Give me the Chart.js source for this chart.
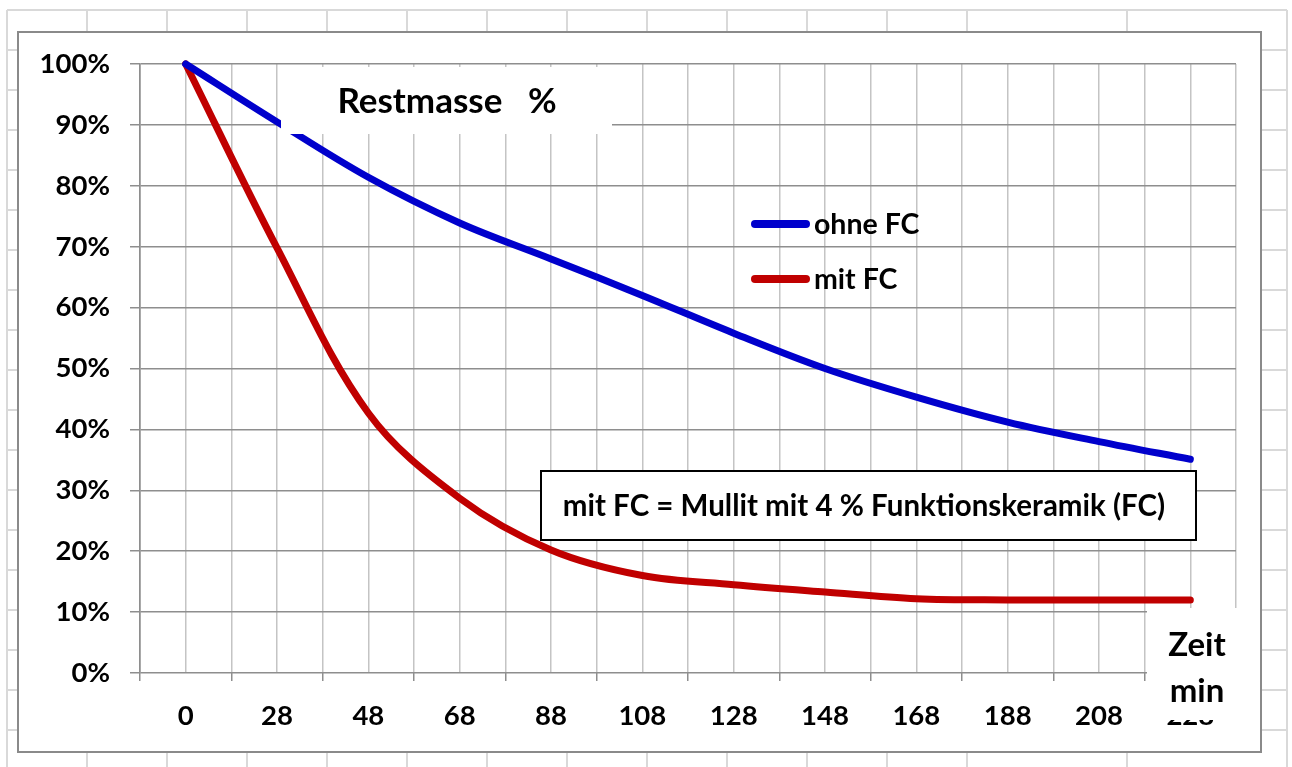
<!DOCTYPE html>
<html>
<head>
<meta charset="utf-8">
<title>Restmasse %</title>
<script src="https://cdn.jsdelivr.net/npm/chart.js@4.4.1/dist/chart.umd.min.js"></script>
<style>
  html, body { margin: 0; padding: 0; background: #ffffff; }
  canvas { display: block; }
</style>
</head>
<body>
<canvas id="chart" width="1292" height="767"></canvas>
<script>
// Zeit in Minuten (Kategorien der x-Achse)
const categories = ['0', '28', '48', '68', '88', '108', '128', '148', '168', '188', '208', '228'];
// Restmasse als Anteil (1 = 100 %)
const ohneFC = [1.00, 0.905, 0.814, 0.739, 0.680, 0.620, 0.558, 0.500, 0.453, 0.412, 0.380, 0.351];
const mitFC  = [1.00, 0.698, 0.427, 0.287, 0.202, 0.160, 0.145, 0.133, 0.122, 0.120, 0.120, 0.120];
const seriesNames = ['ohne FC', 'mit FC'];
const yTickLabels = ['0%', '10%', '20%', '30%', '40%', '50%', '60%', '70%', '80%', '90%', '100%'];

const FONT = 'Lato, "Open Sans", "Liberation Sans", sans-serif';

function toPoints(values) {
  return values.map((v, i) => ({ x: i, y: v }));
}

// Tabellenraster und Diagrammrahmen hinter dem Diagramm
const sheetBackground = {
  id: 'sheetBackground',
  beforeDraw(chart) {
    const ctx = chart.ctx;
    ctx.save();
    ctx.fillStyle = '#ffffff';
    ctx.fillRect(0, 0, chart.width, chart.height);
    ctx.strokeStyle = '#d9d9d9';
    ctx.lineWidth = 2;
    const cols = [7, 87, 167, 247, 327, 407, 487, 567, 647, 727, 807, 887, 967, 1127, 1287];
    ctx.beginPath();
    cols.forEach(x => { ctx.moveTo(x, 10); ctx.lineTo(x, chart.height); });
    for (let y = 10; y <= chart.height; y += 40) { ctx.moveTo(7, y); ctx.lineTo(1287, y); }
    ctx.stroke();
    ctx.fillStyle = '#ffffff';
    ctx.fillRect(18, 32, 1243, 720);
    ctx.strokeStyle = '#8a8a8a';
    ctx.lineWidth = 2;
    ctx.strokeRect(18, 32, 1243, 720);
    ctx.restore();
  }
};

// Titel, Legende, Hinweis und Achsenbeschriftung
const overlays = {
  id: 'overlays',
  afterDraw(chart) {
    const ctx = chart.ctx;
    ctx.save();

    // Titelfeld
    ctx.fillStyle = '#ffffff';
    ctx.fillRect(281, 67, 331, 67);
    ctx.fillStyle = '#000000';
    ctx.font = 'bold 35px ' + FONT;
    ctx.textBaseline = 'alphabetic';
    ctx.textAlign = 'center';
    ctx.fillText('Restmasse   %', 447, 113);

    // Legende
    ctx.textAlign = 'left';
    ctx.font = 'bold 28.5px ' + FONT;
    const legendRows = [224, 279];
    chart.data.datasets.forEach((ds, i) => {
      const y = legendRows[i];
      ctx.strokeStyle = ds.borderColor;
      ctx.lineWidth = 8;
      ctx.lineCap = 'round';
      ctx.beginPath();
      ctx.moveTo(755, y);
      ctx.lineTo(806, y);
      ctx.stroke();
      ctx.fillStyle = '#000000';
      ctx.textBaseline = 'middle';
      ctx.fillText(ds.label, 814, y + 1);
    });

    // Hinweisfeld
    ctx.fillStyle = '#ffffff';
    ctx.fillRect(541, 471, 655, 69);
    ctx.strokeStyle = '#000000';
    ctx.lineWidth = 2;
    ctx.strokeRect(541, 471, 655, 69);
    ctx.fillStyle = '#000000';
    ctx.font = 'bold 29.5px ' + FONT;
    ctx.textAlign = 'center';
    ctx.textBaseline = 'middle';
    ctx.fillText('mit FC = Mullit mit 4 % Funktionskeramik (FC)', 864, 506);

    // Achsentitel Zeit / min
    ctx.fillStyle = '#ffffff';
    ctx.fillRect(1147, 608, 111, 112);
    ctx.fillStyle = '#000000';
    ctx.font = 'bold 33px ' + FONT;
    ctx.textBaseline = 'alphabetic';
    ctx.fillText('Zeit', 1197, 656);
    ctx.fillText('min', 1197, 702);
    ctx.restore();
  }
};

const gridDark = '#8e8e8e';
const gridLight = '#c4c4c4';

new Chart(document.getElementById('chart'), {
  type: 'line',
  data: {
    datasets: [
      {
        label: seriesNames[0],
        data: toPoints(ohneFC),
        borderColor: '#0000cc',
        borderWidth: 7,
        borderCapStyle: 'round',
        pointRadius: 0,
        tension: 0.35,
        clip: 10
      },
      {
        label: seriesNames[1],
        data: toPoints(mitFC),
        borderColor: '#c00000',
        borderWidth: 7,
        borderCapStyle: 'round',
        pointRadius: 0,
        tension: 0.35,
        clip: 10
      }
    ]
  },
  options: {
    responsive: false,
    animation: false,
    events: [],
    layout: { padding: { left: 0, top: 64, right: 56, bottom: 0 } },
    plugins: {
      legend: { display: false },
      tooltip: { enabled: false },
      title: { display: false }
    },
    scales: {
      x: {
        type: 'linear',
        min: -0.5,
        max: categories.length - 0.5,
        afterFit(scale) { scale.height = 94; },
        afterBuildTicks(scale) {
          const ticks = [];
          for (let v = -0.5; v <= categories.length - 0.5 + 1e-9; v += 0.5) ticks.push({ value: v });
          scale.ticks = ticks;
        },
        ticks: {
          autoSkip: false,
          maxRotation: 0,
          minRotation: 0,
          padding: 19,
          color: '#000000',
          font: { family: FONT, size: 27.5, weight: 'bold' },
          callback: (v) => Number.isInteger(v) ? categories[v] : ''
        },
        grid: {
          color: (ctx) => (ctx.tick && ctx.tick.value === -0.5) ? gridDark : gridLight,
          lineWidth: 1.5,
          tickLength: 8,
          tickWidth: 1.5,
          tickColor: (ctx) => (ctx.tick && !Number.isInteger(ctx.tick.value)) ? gridDark : 'rgba(0,0,0,0)'
        },
        border: { display: false }
      },
      y: {
        type: 'linear',
        min: 0,
        max: 1,
        afterFit(scale) { scale.width = 140; },
        ticks: {
          stepSize: 0.1,
          padding: 20,
          color: '#000000',
          font: { family: FONT, size: 27.5, weight: 'bold' },
          callback: (v) => yTickLabels[Math.round(v * 10)]
        },
        grid: {
          color: gridDark,
          lineWidth: 1.5,
          tickLength: 10,
          tickColor: gridDark
        },
        border: { display: true, color: gridDark, width: 1.5 }
      }
    }
  },
  plugins: [sheetBackground, overlays]
});
</script>
</body>
</html>
